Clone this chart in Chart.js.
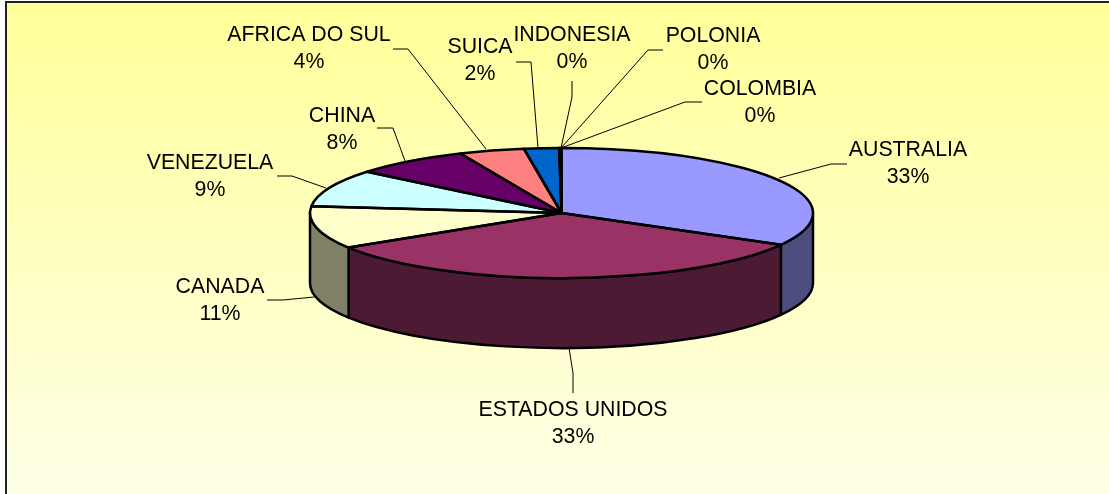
<!DOCTYPE html>
<html>
<head>
<meta charset="utf-8">
<title>Pie</title>
<script src="https://cdn.jsdelivr.net/npm/chart.js@4/dist/chart.umd.js"></script>
<style>
  html, body { margin: 0; padding: 0; background: #fff; }
  canvas { display: block; }
</style>
</head>
<body>
<canvas id="pieChart" width="1109" height="494"></canvas>
<script>
const categories = ['AUSTRALIA', 'ESTADOS UNIDOS', 'CANADA', 'VENEZUELA', 'CHINA', 'AFRICA DO SUL', 'SUICA', 'INDONESIA', 'POLONIA', 'COLOMBIA'];
const shares = [33.2, 33.0, 10.6, 9.3, 7.5, 4.2, 2.25, 0.05, 0.05, 0.05];
const percentLabels = ['33%', '33%', '11%', '9%', '8%', '4%', '2%', '0%', '0%', '0%'];

const topColors = ['#9999FF', '#993366', '#FFFFCC', '#CCFFFF', '#660066', '#FF8080', '#0066CC', '#C0C0C0', '#000080', '#FF00FF'];
const sideColors = ['#4D4D80', '#4D1A33', '#808066', '#668080', '#330033', '#804040', '#003366', '#606060', '#000040', '#800080'];

// pie on screen: centre, half axes and wall height
const pie = { x: 561.5, y: 213, a: 251.5, b: 65, depth: 70 };

// [centre x, first line y] for each label, same order as categories
const labelSpots = [[908, 150], [573, 410], [220, 287], [210, 163], [342, 116], [309, 35], [480, 47], [572, 35], [713, 36], [760, 89]];
const leaderLines = [
  [[779, 178], [831, 164], [847, 164]],
  [[569, 348], [573, 373], [573, 393]],
  [[314, 297], [283, 300], [267, 300]],
  [[326, 188], [292, 176], [277, 176]],
  [[405, 161], [393, 128], [377, 128]],
  [[486, 149], [408, 49], [393, 49]],
  [[538, 148], [531, 62], [516, 62]],
  [[561, 148], [572, 97], [572, 81]],
  [[561, 148], [648, 50], [663, 50]],
  [[561, 148], [685, 102], [702, 102]]
];

const panel3d = {
  id: 'panel3d',
  beforeDraw(chart) {
    const ctx = chart.ctx;
    const grad = ctx.createLinearGradient(0, 2, 0, 494);
    grad.addColorStop(0, '#FFFF99');
    grad.addColorStop(1, '#FFFFE8');
    ctx.save();
    ctx.fillStyle = '#fff';
    ctx.fillRect(0, 0, 1109, 494);
    ctx.fillStyle = grad;
    ctx.fillRect(6, 2, 1103, 492);
    ctx.strokeStyle = '#222';
    ctx.lineWidth = 2;
    ctx.beginPath();
    ctx.moveTo(6, 494);
    ctx.lineTo(6, 2);
    ctx.lineTo(1109, 2);
    ctx.stroke();
    ctx.restore();
  },
  beforeDatasetsDraw(chart) {
    const ctx = chart.ctx;
    const arcs = chart.getDatasetMeta(0).data;
    // walls first, only the part of each slice facing the viewer
    ctx.save();
    ctx.lineWidth = 2.5;
    ctx.lineJoin = 'round';
    ctx.strokeStyle = '#000';
    arcs.forEach((arc, i) => {
      const from = Math.max(arc.startAngle, 0);
      const to = Math.min(arc.endAngle, Math.PI);
      if (from >= to) return;
      ctx.beginPath();
      ctx.ellipse(pie.x, pie.y, pie.a, pie.b, 0, from, to);
      ctx.ellipse(pie.x, pie.y + pie.depth, pie.a, pie.b, 0, to, from, true);
      ctx.closePath();
      ctx.fillStyle = sideColors[i];
      ctx.fill();
      ctx.stroke();
    });
    ctx.restore();
    // squash the library's round pie into the top ellipse
    const first = arcs[0];
    ctx.save();
    ctx.translate(pie.x, pie.y);
    ctx.scale(pie.a / first.outerRadius, pie.b / first.outerRadius);
    ctx.translate(-first.x, -first.y);
  },
  afterDatasetsDraw(chart) {
    const ctx = chart.ctx;
    ctx.restore();
    ctx.save();
    ctx.lineWidth = 2.5;
    ctx.lineJoin = 'round';
    ctx.strokeStyle = '#000';
    chart.getDatasetMeta(0).data.forEach(arc => {
      ctx.beginPath();
      ctx.moveTo(pie.x, pie.y);
      ctx.ellipse(pie.x, pie.y, pie.a, pie.b, 0, arc.startAngle, arc.endAngle);
      ctx.closePath();
      ctx.stroke();
    });
    ctx.restore();
  },
  afterDraw(chart) {
    const ctx = chart.ctx;
    ctx.save();
    ctx.strokeStyle = '#000';
    ctx.lineWidth = 1;
    leaderLines.forEach(line => {
      ctx.beginPath();
      line.forEach((p, i) => (i ? ctx.lineTo(p[0], p[1]) : ctx.moveTo(p[0], p[1])));
      ctx.stroke();
    });
    ctx.fillStyle = '#000';
    ctx.font = '21.3px "Liberation Sans", Arial, sans-serif';
    ctx.textAlign = 'center';
    ctx.textBaseline = 'middle';
    categories.forEach((name, i) => {
      const [x, y] = labelSpots[i];
      ctx.fillText(name, x, y);
      ctx.fillText(percentLabels[i], x, y + 27);
    });
    ctx.restore();
  }
};

new Chart(document.getElementById('pieChart').getContext('2d'), {
  type: 'pie',
  data: {
    labels: categories,
    datasets: [{
      data: shares,
      backgroundColor: topColors,
      borderWidth: 0,
      clip: false
    }]
  },
  options: {
    responsive: false,
    animation: false,
    events: [],
    plugins: {
      legend: { display: false },
      tooltip: { enabled: false }
    }
  },
  plugins: [panel3d]
});
</script>
</body>
</html>
